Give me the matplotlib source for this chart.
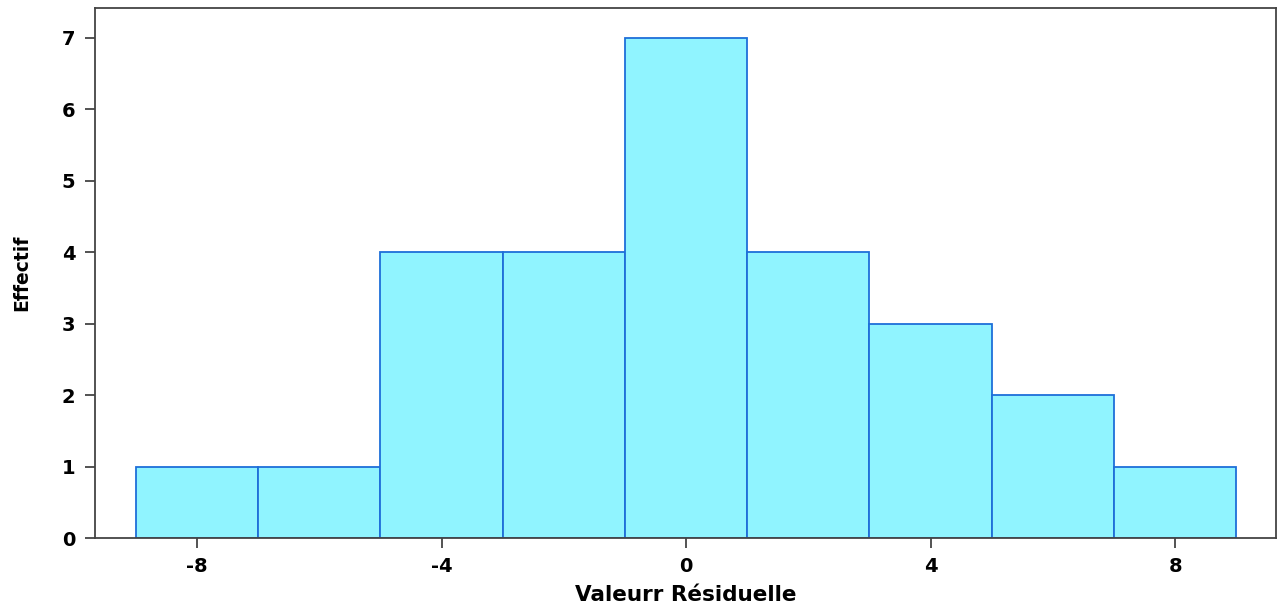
import matplotlib.pyplot as plt
import numpy as np

# Histogram of residuals: bin edges and counts
bin_edges = [-9, -7, -5, -3, -1, 1, 3, 5, 7, 9]
counts = [1, 1, 4, 4, 7, 4, 3, 2, 1]
x_ticks = [-8, -4, 0, 4, 8]
y_ticks = [0, 1, 2, 3, 4, 5, 6, 7]

plt.rcParams['font.family'] = ['DejaVu Sans']
plt.rcParams['font.weight'] = 'bold'

fig = plt.figure(figsize=(12.82, 6.10), dpi=100)
ax = fig.add_axes([0.0741, 0.118, 0.9212, 0.869])

edges = np.array(bin_edges, dtype=float)
ax.bar(edges[:-1], counts, width=np.diff(edges), align='edge',
       color='#90F4FF', edgecolor='#1E6FD9', linewidth=1.3, zorder=2)

ax.set_xlim(-9.67, 9.65)
ax.set_ylim(0, 7.42)
ax.set_xticks(x_ticks)
ax.set_yticks(y_ticks)
ax.set_xticklabels([str(t) for t in x_ticks], fontsize=14, fontweight='bold')
ax.set_yticklabels([str(t) for t in y_ticks], fontsize=14, fontweight='bold')
ax.tick_params(direction='out', length=7, width=1.3, color='#444444', pad=7)

for side in ['left', 'bottom', 'top', 'right']:
    ax.spines[side].set_color('#444444')
    ax.spines[side].set_linewidth(1.3)

ax.set_xlabel('Valeurr Résiduelle', fontsize=15.5, fontweight='bold', labelpad=6)
ax.set_ylabel('Effectif', fontsize=13.5, fontweight='bold', labelpad=22)

plt.savefig('out.png', dpi=100)
